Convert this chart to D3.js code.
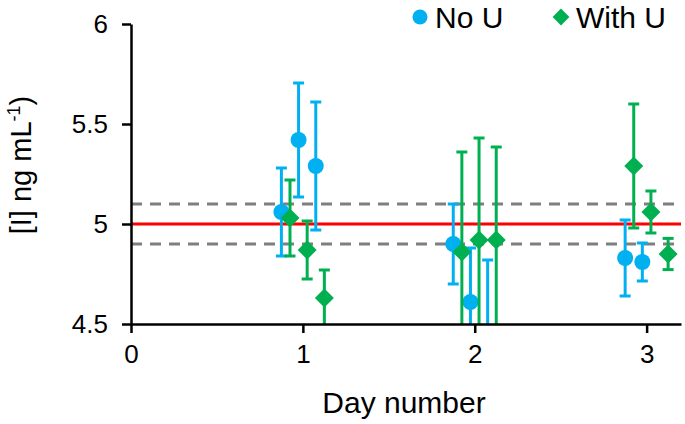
<!DOCTYPE html>
<html>
<head>
<meta charset="utf-8">
<script src="https://cdn.jsdelivr.net/npm/d3@7"></script>
<style>
html,body{margin:0;padding:0;background:#fff;}
svg{display:block;font-family:"Liberation Sans",Arial,sans-serif;}
</style>
</head>
<body>
<svg id="chart" width="685" height="424"></svg>
<script>
// ---- data ----
const xTicks = [0, 1, 2, 3];
const yTicks = [4.5, 5, 5.5, 6];
const seriesNames = ["No U", "With U"];
const noU_x   = [0.875, 0.975, 1.075, 1.875, 1.975, 2.075, 2.875, 2.975];
const noU_y   = [5.06, 5.42, 5.29, 4.90, 4.61, 4.42, 4.83, 4.81];
const noU_err = [0.22, 0.285, 0.32, 0.20, 0.27, 0.40, 0.19, 0.095];
const withU_x   = [0.925, 1.025, 1.125, 1.925, 2.025, 2.125, 2.925, 3.025, 3.125];
const withU_y   = [5.03, 4.87, 4.63, 4.86, 4.92, 4.92, 5.29, 5.06, 4.85];
const withU_err = [0.19, 0.145, 0.14, 0.50, 0.51, 0.465, 0.31, 0.105, 0.078];
const refLine = 5.0;
const limitLines = [5.1, 4.9];

// ---- layout ----
const svg = d3.select("#chart");
const mLeft = 131, mRight = 681, mTop = 24, mBottom = 324;
const x = d3.scaleLinear().domain([0, 3.2]).range([mLeft, mRight]);
const y = d3.scaleLinear().domain([4.5, 6]).range([mBottom, mTop]);

const blue = "#00B0F0", green = "#00B050";

svg.append("defs").append("clipPath").attr("id", "clip")
  .append("rect").attr("x", mLeft).attr("y", mTop - 5)
  .attr("width", mRight - mLeft).attr("height", mBottom - mTop + 5);

const plot = svg.append("g").attr("clip-path", "url(#clip)");

// reference lines
plot.selectAll("line.lim").data(limitLines).enter().append("line")
  .attr("class", "lim")
  .attr("x1", mLeft).attr("x2", mRight)
  .attr("y1", d => y(d)).attr("y2", d => y(d))
  .attr("stroke", "#7F7F7F").attr("stroke-width", 3)
  .attr("stroke-dasharray", "11,8");
plot.append("line")
  .attr("x1", mLeft).attr("x2", mRight)
  .attr("y1", y(refLine)).attr("y2", y(refLine))
  .attr("stroke", "#FF0000").attr("stroke-width", 3);

function drawSeries(xs, ys, es, color, shape) {
  const data = xs.map((d, i) => ({x: d, y: ys[i], e: es[i]}));
  const g = plot.append("g");
  const eb = g.selectAll("g.eb").data(data).enter().append("g")
    .attr("stroke", color).attr("stroke-width", 3);
  eb.append("line")
    .attr("x1", d => x(d.x)).attr("x2", d => x(d.x))
    .attr("y1", d => y(d.y + d.e)).attr("y2", d => y(d.y - d.e));
  [1, -1].forEach(s => {
    eb.append("line")
      .attr("x1", d => x(d.x) - 5.5).attr("x2", d => x(d.x) + 5.5)
      .attr("y1", d => y(d.y + s * d.e)).attr("y2", d => y(d.y + s * d.e));
  });
  const sym = d3.symbol().type(shape === "circle" ? d3.symbolCircle : d3.symbolDiamond2)
    .size(shape === "circle" ? Math.PI * 8 * 8 : 230);
  g.selectAll("path.m").data(data).enter().append("path")
    .attr("transform", d => `translate(${x(d.x)},${y(d.y)})`)
    .attr("d", sym).attr("fill", color);
}
drawSeries(noU_x, noU_y, noU_err, blue, "circle");
drawSeries(withU_x, withU_y, withU_err, green, "diamond");

// axes
const xAxis = svg.append("g").attr("transform", `translate(0,${mBottom})`)
  .call(d3.axisBottom(x).tickValues(xTicks).tickSize(9).tickSizeOuter(0).tickPadding(12).tickFormat(d3.format("d")));
const yAxis = svg.append("g").attr("transform", `translate(${mLeft},0)`)
  .call(d3.axisLeft(y).tickValues(yTicks).tickSize(9).tickSizeOuter(0).tickPadding(14).tickFormat(d => d));
[xAxis, yAxis].forEach(a => {
  a.selectAll("path,line").attr("stroke", "#000").attr("stroke-width", 2.5);
  a.selectAll("text").attr("fill", "#000").attr("font-size", 26)
    .attr("font-family", "Liberation Sans, Arial, sans-serif");
});

// axis titles
svg.append("text").attr("x", (mLeft + mRight) / 2 - 2).attr("y", 413)
  .attr("text-anchor", "middle").attr("font-size", 30).text("Day number");
const yl = svg.append("text")
  .attr("transform", "translate(31,165) rotate(-90)")
  .attr("text-anchor", "middle").attr("font-size", 29);
yl.append("tspan").text("[I] ng mL");
yl.append("tspan").attr("font-size", 18).attr("dy", -11).text("-1");
yl.append("tspan").attr("dy", 11).text(")");

// legend
const lg = svg.append("g");
lg.append("path").attr("transform", "translate(420,17)")
  .attr("d", d3.symbol().type(d3.symbolCircle).size(Math.PI * 7.5 * 7.5)).attr("fill", blue);
lg.append("text").attr("x", 435).attr("y", 28).attr("font-size", 30).text(seriesNames[0]);
lg.append("path").attr("transform", "translate(561,17)")
  .attr("d", d3.symbol().type(d3.symbolDiamond2).size(180)).attr("fill", green);
lg.append("text").attr("x", 576).attr("y", 28).attr("font-size", 30).text(seriesNames[1]);
</script>
</body>
</html>
